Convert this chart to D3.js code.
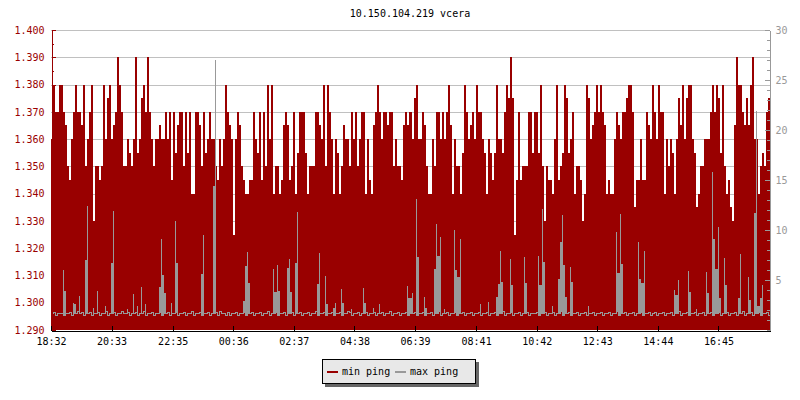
<!DOCTYPE html>
<html>
<head>
<meta charset="utf-8">
<script src="https://cdn.jsdelivr.net/npm/d3@7"></script>
<style>
    body { margin: 0; background: #fff; }
</style>
</head>
<body>
<div id="chart"></div>
<script>
const title = "10.150.104.219 vcera";
const startTime = new Date(2020, 0, 1, 18, 32);
const stepMinutes = 4;

// min ping, one char per 4 minute step, base36 code c -> 1.300 + c * 0.005
const minPingRows = [
    "cgeeggeda9cegeedgaceg6aa9agcfgcdeigeaacbacibcfgeiecaccdccece",
    "9ebdeeaebe88eedaebcecca9cacgedc5ceda98899ecbe9eagcg8aa89ded",
    "9ae8beeeb8aaaeedcgagec8cb8adccaeceacee8c98degeceedeeacaa9ded",
    "ecfgcceda88caeececegd8caa8bgecdecgeecb8cb9bgccbegfif59e9aaae",
    "ebeebga6a998cg9abgfbce8aa968gfcdegeged8988cedceefgge799c99ed",
    "cgecgee8cacb8cfdgcfggcb78aacccegegfbga8976diggedfdgicc8abaef"
];

// max ping baseline, one digit per step, d -> 1.25 + d / 10
const maxBaseRows = [
    "463545354634574635463546354734563547456354635473546354635463",
    "546354635473546354635463745363546354635463546354735463546354",
    "635463546354735463546354635476354635463546354635473546354635",
    "463546354635473546354635463546354635463546354735463546354635",
    "546354635463547354635463546354635463546354735463546354635463",
    "46354635463547354635463546354635463546354635473546354635463"
];

// max ping spikes: [step index, ms]
const maxSpikes = [
    [6, 6.0], [7, 3.9], [11, 2.7], [12, 2.6], [14, 3.4], [17, 7.0], [18, 12.4], [21, 2.2],
    [23, 3.9], [27, 2.4], [30, 6.7], [31, 11.9], [38, 2.1], [41, 3.6], [43, 2.4], [45, 4.3],
    [47, 2.6], [54, 4.3], [55, 9.1], [56, 5.5], [57, 3.7], [60, 2.7], [62, 10.9], [63, 6.7],
    [75, 5.6], [76, 9.5], [81, 14.4], [82, 27.0], [96, 2.9], [97, 6.4], [98, 7.8], [99, 4.7],
    [111, 6.1], [112, 3.8], [113, 6.5], [114, 3.9], [118, 6.2], [119, 7.1], [120, 3.8],
    [122, 6.7], [123, 11.8], [133, 4.6], [134, 7.7], [137, 5.4], [138, 2.6], [141, 2.2],
    [142, 2.7], [145, 4.1], [146, 2.7], [150, 2.1], [156, 4.2], [157, 2.7], [161, 2.2],
    [164, 2.6], [178, 4.4], [179, 3.2], [180, 3.7], [182, 13.1], [183, 7.3], [186, 3.3],
    [187, 2.2], [191, 6.1], [192, 10.6], [193, 7.4], [194, 9.3], [196, 2.1], [201, 10.0],
    [202, 6.0], [203, 5.3], [204, 9.1], [214, 2.6], [218, 2.8], [222, 3.3], [223, 4.6],
    [224, 7.9], [225, 4.8], [229, 7.1], [230, 4.5], [236, 7.3], [237, 4.7], [243, 7.4],
    [244, 4.5], [245, 12.1], [246, 6.8], [250, 2.4], [253, 5.1], [254, 8.8], [255, 11.5],
    [256, 6.5], [257, 3.3], [259, 6.3], [260, 4.8], [268, 2.4], [282, 9.8], [283, 5.7],
    [284, 11.6], [285, 6.6], [293, 8.8], [294, 5.1], [295, 4.7], [296, 7.9], [311, 4.0],
    [312, 3.5], [313, 5.0], [318, 5.9], [319, 3.8], [322, 2.1], [327, 5.8], [328, 3.7],
    [330, 15.8], [331, 9.1], [332, 6.1], [333, 10.3], [334, 3.2], [336, 7.2], [337, 4.5],
    [343, 3.2], [344, 7.6], [348, 5.3], [349, 3.0], [351, 11.7], [352, 21.9], [353, 2.4],
    [354, 3.2], [355, 4.5]
];

const xTickLabels = ["18:32", "20:33", "22:35", "00:36", "02:37", "04:38",
                     "06:39", "08:41", "10:42", "12:43", "14:44", "16:45"];
const leftTicks = [1.290, 1.300, 1.310, 1.320, 1.330, 1.340, 1.350,
                   1.360, 1.370, 1.380, 1.390, 1.400];
const rightTicks = [5, 10, 15, 20, 25, 30];
const legendItems = [
    { name: "min ping", color: "#990000" },
    { name: "max ping", color: "#999999" }
];

let totalWidth = 800,
    totalHeight = 400,
    pLeft = 51,
    pRight = 770,
    pTop = 30,
    pBottom = 330;

let red = "#990000",
    gray = "#999999",
    font = "'DejaVu Sans Mono', monospace";

// decode rows into series
let minPing = minPingRows.join("").split("").map(c => 1.3 + parseInt(c, 36) * 0.005);
let maxBase = maxBaseRows.join("").split("").map(c => 1.25 + (+c) / 10);
let spikeMap = new Map(maxSpikes);

function stepTime(i) {
    return new Date(startTime.getTime() + i * stepMinutes * 60000);
}

let n = minPing.length;
let endTime = stepTime(n);

let minData = minPing.map((v, i) => ({ t: stepTime(i), v: v }));
minData.push({ t: endTime, v: minPing[n - 1] });
let baseData = maxBase.map((v, i) => ({ t: stepTime(i), v: v }));
baseData.push({ t: endTime, v: maxBase[maxBase.length - 1] });

let tickDates = xTickLabels.map(s => {
    let p = s.split(":");
    let d = new Date(startTime);
    d.setHours(+p[0], +p[1]);
    if (d < startTime) d.setDate(d.getDate() + 1);
    return d;
});

let xScale = d3.scaleTime().domain([startTime, endTime]).range([pLeft, pRight]);
let yScale = d3.scaleLinear().domain([1.29, 1.40]).range([pBottom, pTop]);
let yScale2 = d3.scaleLinear().domain([0, 30]).range([pBottom, pTop]);

let svg = d3.select("#chart").append("svg")
    .attr("width", totalWidth)
    .attr("height", totalHeight)
    .style("font-family", font)
    .style("font-size", "10px");

svg.append("rect")
    .attr("width", totalWidth)
    .attr("height", totalHeight)
    .attr("fill", "#fff");

// title
svg.append("text")
    .attr("x", 410)
    .attr("y", 17)
    .attr("text-anchor", "middle")
    .attr("fill", "#000")
    .text(title);

// grid
svg.append("g")
    .selectAll("line")
    .data(leftTicks.slice(1))
    .enter().append("line")
    .attr("x1", pLeft)
    .attr("x2", pRight)
    .attr("y1", d => Math.round(yScale(d)) + 0.5)
    .attr("y2", d => Math.round(yScale(d)) + 0.5)
    .attr("stroke", "#c0c0c0")
    .attr("stroke-width", 1);

// min ping area
let area = d3.area()
    .curve(d3.curveStepAfter)
    .x(d => xScale(d.t))
    .y0(pBottom)
    .y1(d => yScale(d.v));

svg.append("path")
    .datum(minData)
    .attr("d", area)
    .attr("fill", red)
    .attr("shape-rendering", "crispEdges");

// max ping: jittery base line
let line = d3.line()
    .curve(d3.curveStepAfter)
    .x(d => Math.round(xScale(d.t)) + 0.5)
    .y(d => Math.round(yScale2(d.v)) + 0.5);

svg.append("path")
    .datum(baseData)
    .attr("d", line)
    .attr("fill", "none")
    .attr("stroke", gray)
    .attr("stroke-width", 1)
    .attr("shape-rendering", "crispEdges");

// max ping: spikes as thin columns, bridged where two spikes touch
let gSpikes = svg.append("g").attr("fill", gray).attr("shape-rendering", "crispEdges");
maxSpikes.forEach(s => {
    let i = s[0], v = s[1];
    let x = Math.round(xScale(stepTime(i)));
    let yb = Math.round(yScale2(maxBase[i])) + 1;
    gSpikes.append("rect")
        .attr("x", x)
        .attr("width", 1)
        .attr("y", Math.round(yScale2(v)))
        .attr("height", yb - Math.round(yScale2(v)));
    if (spikeMap.has(i + 1)) {
        let vb = Math.min(v, spikeMap.get(i + 1));
        let xn = Math.round(xScale(stepTime(i + 1)));
        gSpikes.append("rect")
            .attr("x", x + 1)
            .attr("width", xn - x - 1)
            .attr("y", Math.round(yScale2(vb)))
            .attr("height", yb - Math.round(yScale2(vb)));
    }
});

// left axis
let leftAxis = d3.axisLeft(yScale)
    .tickValues(leftTicks)
    .tickSize(-4)
    .tickSizeOuter(0)
    .tickPadding(7)
    .tickFormat(d3.format(".3f"));

let gLeft = svg.append("g")
    .attr("transform", "translate(" + (pLeft + 0.5) + ",0)")
    .call(leftAxis);
gLeft.selectAll("path, line").attr("stroke", red).attr("shape-rendering", "crispEdges");
gLeft.selectAll("text").attr("fill", red).style("font-size", "10px").style("font-family", font);

let gLeftMinor = svg.append("g")
    .attr("transform", "translate(" + (pLeft + 0.5) + ",0)")
    .call(d3.axisLeft(yScale).tickValues(leftTicks.slice(1).map(d => d - 0.005))
        .tickSize(-2).tickFormat(""));
gLeftMinor.select(".domain").remove();
gLeftMinor.selectAll("line").attr("stroke", red).attr("shape-rendering", "crispEdges");

// right axis
let rightAxis = d3.axisRight(yScale2)
    .tickValues(rightTicks)
    .tickSize(-5)
    .tickSizeOuter(0)
    .tickPadding(6);

let gRight = svg.append("g")
    .attr("transform", "translate(" + (pRight - 0.5) + ",0)")
    .call(rightAxis);
gRight.selectAll("path, line").attr("stroke", gray).attr("shape-rendering", "crispEdges");
gRight.selectAll("text").attr("fill", gray).style("font-size", "10px").style("font-family", font);

let gRightMinor = svg.append("g")
    .attr("transform", "translate(" + (pRight - 0.5) + ",0)")
    .call(d3.axisRight(yScale2).ticks(30).tickSize(-3).tickFormat(""));
gRightMinor.select(".domain").remove();
gRightMinor.selectAll("line").attr("stroke", gray).attr("shape-rendering", "crispEdges");

// bottom axis
let bottomAxis = d3.axisBottom(xScale)
    .tickValues(tickDates)
    .tickSize(-5)
    .tickSizeOuter(0)
    .tickPadding(7)
    .tickFormat((d, i) => xTickLabels[i]);

let gBottom = svg.append("g")
    .attr("transform", "translate(0," + (pBottom + 0.5) + ")")
    .call(bottomAxis);
gBottom.selectAll("path, line").attr("stroke", "#000").attr("shape-rendering", "crispEdges");
gBottom.selectAll("text").attr("fill", "#000").style("font-size", "10px").style("font-family", font);

// legend
let lg = svg.append("g").attr("transform", "translate(322,359)");
lg.append("rect")
    .attr("x", 3).attr("y", 3)
    .attr("width", 154).attr("height", 25)
    .attr("fill", "#666");
lg.append("rect")
    .attr("x", 0.5).attr("y", 0.5)
    .attr("width", 153).attr("height", 24)
    .attr("fill", "#e8e8e8")
    .attr("stroke", "#000");

let item = lg.selectAll(".item")
    .data(legendItems)
    .enter().append("g")
    .attr("class", "item")
    .attr("transform", (d, i) => "translate(" + (5 + i * 68) + ",0)");
item.append("line")
    .attr("x1", 0).attr("x2", 11)
    .attr("y1", 13).attr("y2", 13)
    .attr("stroke", d => d.color)
    .attr("stroke-width", 2);
item.append("text")
    .attr("x", 15).attr("y", 16)
    .attr("fill", "#000")
    .text(d => d.name);
</script>
</body>
</html>
